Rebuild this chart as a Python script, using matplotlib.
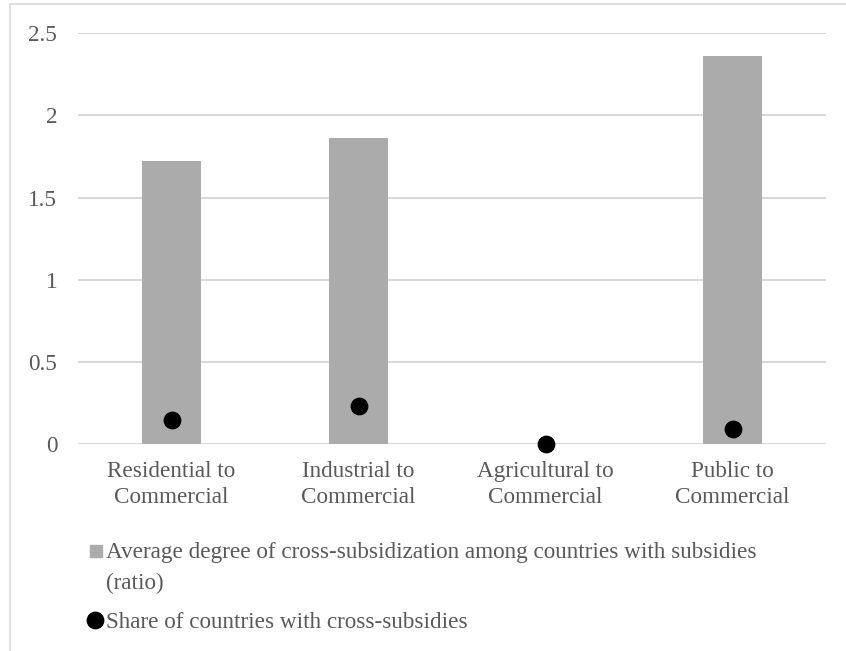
import matplotlib
matplotlib.use("Agg")
import matplotlib.pyplot as plt
from matplotlib.lines import Line2D
from matplotlib.patches import Rectangle

categories = ["Residential to\nCommercial", "Industrial to\nCommercial",
              "Agricultural to\nCommercial", "Public to\nCommercial"]
avg_degree = [1.72, 1.86, 0.0, 2.36]
share_countries = [0.15, 0.23, 0.0, 0.09]
yticks = [0, 0.5, 1, 1.5, 2, 2.5]
ytick_labels = ["0", "0.5", "1", "1.5", "2", "2.5"]
legend_bar_lines = ["Average degree of cross-subsidization among countries with subsidies",
                    "(ratio)"]
legend_dot = "Share of countries with cross-subsidies"

BAR = "#ababab"
GRID = "#d9d9d9"
TXT = "#595959"
FONT = ["Liberation Serif", "DejaVu Serif"]
FS = 16.7

plt.rcParams["font.family"] = FONT

W, H = 846, 651
fig = plt.figure(figsize=(W / 100, H / 100), dpi=100)

# outer chart frame
fig.patches.append(Rectangle((10 / W, -0.1), 1.2, 1 - 4 / H + 0.1,
                             transform=fig.transFigure, fill=False,
                             edgecolor=GRID, linewidth=1.2, zorder=0))

left, right = 78 / W, 826 / W
bottom, top = 1 - 444.3 / H, 1 - 33 / H
ax = fig.add_axes([left, bottom, right - left, top - bottom])

x = list(range(len(categories)))
ax.bar(x, avg_degree, width=0.316, color=BAR, zorder=2)
ax.plot(x, share_countries, linestyle="none", marker="o", markersize=11.8,
        color="black", zorder=3, clip_on=False)

ax.set_xlim(-0.5, len(categories) - 0.5)
ax.set_ylim(0, 2.5)
ax.set_yticks(yticks)
ax.set_yticklabels(ytick_labels)
ax.set_xticks(x)
ax.set_xticklabels(categories, linespacing=1.34)
for s in ax.spines.values():
    s.set_visible(False)
ax.grid(axis="y", color=GRID, linewidth=1.5, zorder=1)
ax.set_axisbelow(True)
ax.tick_params(axis="both", length=0, labelsize=FS, colors=TXT)
ax.tick_params(axis="y", pad=15)
ax.tick_params(axis="x", pad=12)

# legend (manual placement)
fig.text(106 / W, 1 - 558 / H, legend_bar_lines[0], fontsize=FS, color=TXT,
         ha="left", va="baseline")
fig.text(106 / W, 1 - 589 / H, legend_bar_lines[1], fontsize=FS, color=TXT,
         ha="left", va="baseline")
fig.text(106 / W, 1 - 628 / H, legend_dot, fontsize=FS, color=TXT,
         ha="left", va="baseline")
fig.add_artist(Line2D([96 / W], [1 - 551 / H], marker="s", markersize=8.5,
                      color=BAR, linestyle="none", transform=fig.transFigure))
fig.add_artist(Line2D([95 / W], [1 - 620 / H], marker="o", markersize=11.8,
                      color="black", linestyle="none", transform=fig.transFigure))

fig.savefig("out.png", dpi=100)
